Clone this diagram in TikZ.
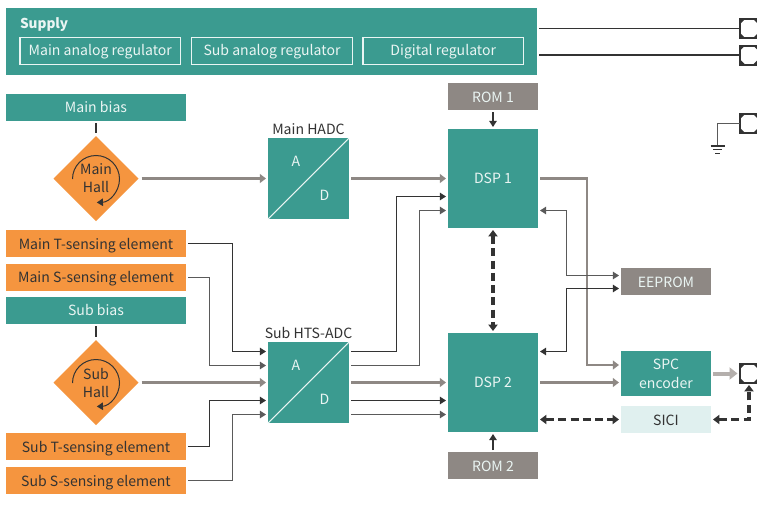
\documentclass[tikz,border=0pt]{standalone}
\usepackage{fontspec}
\setmainfont{Noto Sans CJK JP}
\usetikzlibrary{arrows.meta,calc,shapes.geometric}
\definecolor{teal1}{HTML}{3B9B90}
\definecolor{orange1}{HTML}{F5953F}
\definecolor{gray1}{HTML}{8E8884}
\definecolor{gray2}{HTML}{B4AFAC}
\definecolor{pale1}{HTML}{E0F0EF}
\definecolor{ink}{HTML}{333333}
\definecolor{ink2}{HTML}{5A5A5A}
\definecolor{light1}{HTML}{EAF5F3}
\tikzset{
  x=0.75pt,y=-0.75pt,
  every node/.style={inner sep=0pt,outer sep=0pt,align=center,font=\fontsize{10.55}{14.25}\selectfont},
  oneline/.style={text height=11.3pt,text depth=2.7pt},
  oneup/.style={text height=10.3pt,text depth=2.7pt},
  box/.style={minimum height=20.25pt},
  widebox/.style={box,minimum width=135pt},
  narrowbox/.style={box,minimum width=67.5pt},
  tealbox/.style={widebox,oneup,fill=teal1,text=light1},
  orangebox/.style={widebox,oneline,fill=orange1,text=ink},
  greybox/.style={narrowbox,fill=gray1,text=light1,oneline},
  regbox/.style={draw=light1,line width=0.9pt,minimum width=120.5pt,minimum height=20.25pt,text=light1,oneup},
  hall/.style={diamond,aspect=1,fill=orange1,text=ink,minimum width=63.75pt,minimum height=63.75pt},
  adc/.style={fill=teal1,minimum width=60.75pt,minimum height=60.75pt},
  dsp/.style={fill=teal1,text=light1,minimum width=67.5pt,minimum height=74.25pt},
  term/.style={draw=ink,fill=white,line width=1.5pt,minimum width=14.25pt,minimum height=14.25pt},
  tipT/.tip={Triangle[length=4.6pt,width=5.6pt]},
  thin1/.style={draw=ink,line width=1pt,-{tipT},shorten <=1.5pt,shorten >=1.5pt},
  thin2/.style={draw=ink2,line width=1.1pt,-{tipT},shorten <=1.5pt,shorten >=1.5pt},
  both1/.style={draw=ink,line width=1pt,{tipT}-{tipT},shorten <=1.5pt,shorten >=1.5pt},
  both2/.style={draw=ink2,line width=1.1pt,{tipT}-{tipT},shorten <=1.5pt,shorten >=1.5pt},
  wire/.style={draw=ink,line width=0.9pt},
  fat/.style={draw=gray1,line width=2.1pt,-{Triangle[length=4.6pt,width=6.6pt]},shorten <=1.5pt,shorten >=1.5pt},
  dash1/.style={draw=ink,line width=2.4pt,dash pattern=on 6pt off 3.2pt,{Triangle[length=4.8pt,width=6.8pt]}-{Triangle[length=4.8pt,width=6.8pt]},shorten <=1.5pt,shorten >=1.5pt},
  spin/.style={draw=ink,line width=0.75pt,-{tipT}},
}
\begin{document}
\begin{tikzpicture}
\useasboundingbox (0,0) rectangle (757,521);
\clip (0,0) rectangle (757,521);
\fill[white] (0,0) rectangle (757,521);
% Supply
\node[fill=teal1,minimum width=398.25pt,minimum height=50.25pt] (supply) at (271.5,41.5) {};
\node[anchor=west,text=light1,font=\fontsize{10.2}{14}\selectfont\bfseries] (supplyt) at (20,24.5) {Supply};
\node[regbox] (reg1) at (100.25,50.75) {Main analog regulator};
\node[regbox] (reg2) at (272,50.75) {Sub analog regulator};
\node[regbox] (reg3) at (443.25,50.75) {Digital regulator};
% left column
\node[tealbox] (mainbias) at (96,107.5) {Main bias};
\node[hall] (mainhall) at (96,178.5) {\raisebox{-2.5pt}{Main}\\\raisebox{-1.75pt}{Hall}};
\node[orangebox] (mainT) at (96,243.5) {Main T-sensing element};
\node[orangebox,oneup] (mainS) at (96,277.5) {Main S-sensing element};
\node[tealbox] (subbias) at (96,310.5) {Sub bias};
\node[hall] (subhall) at (96,382.5) {\raisebox{-2.5pt}{Sub}\\\raisebox{-1.75pt}{Hall}};
\node[orangebox] (subT) at (96,446.5) {Sub T-sensing element};
\node[orangebox] (subS) at (96,480.5) {Sub S-sensing element};
\draw[wire] ([yshift=-1.5pt]mainbias.south) -- ([yshift=2pt]mainhall.north);
\draw[wire] ([yshift=-1.5pt]subbias.south) -- ([yshift=2pt]subhall.north);
\draw[spin] ($(mainhall.center)+(-23.5,0.5)$) arc[start angle=180,end angle=448,radius=23.5];
\draw[spin] ($(subhall.center)+(-23.5,0.5)$) arc[start angle=180,end angle=448,radius=23.5];
% ADCs
\node[adc] (hadc) at (308.5,178.5) {};
\node[adc] (hts) at (308.5,382.5) {};
\draw[light1,line width=0.8pt] (hadc.south west) -- (hadc.north east);
\draw[light1,line width=0.8pt] (hts.south west) -- (hts.north east);
\node[text=light1] (hadcA) at (296,161.5) {A};
\node[text=light1] (hadcD) at (324.5,195) {D};
\node[text=light1] (htsA) at (296,365.5) {A};
\node[text=light1] (htsD) at (324.5,399) {D};
\node[text=ink] (hadcl) at (308.5,129) {Main HADC};
\node[text=ink] (htsl) at (308.5,332.5) {Sub HTS-ADC};
% DSPs, ROMs
\node[dsp] (dsp1) at (493,178.5) {DSP 1};
\node[dsp] (dsp2) at (493,382.5) {DSP 2};
\node[greybox] (rom1) at (493,96.5) {ROM 1};
\node[greybox] (rom2) at (493,465.5) {ROM 2};
% right column
\node[greybox] (eeprom) at (666,281.5) {EEPROM};
\node[narrowbox,fill=teal1,text=light1,minimum height=33.75pt] (spc) at (666,373.5) {SPC\\encoder};
\node[narrowbox,oneline,fill=pale1,text=ink] (sici) at (666,419.5) {SICI};
% terminals
\node[term] (t1) at (749,28.5) {};
\node[term] (t2) at (749,55) {};
\node[term] (t3) at (749,123.5) {};
\node[term] (t4) at (749,373.5) {};
\foreach \t in {t1,t2,t3,t4}{
  \fill[ink] (\t.north west) -- ++(5.5,0) -- ++(-5.5,5.5) -- cycle;
  \fill[ink] (\t.south west) -- ++(5.5,0) -- ++(-5.5,-5.5) -- cycle;
  \fill[ink] (\t.north east) -- ++(-5.5,0) -- ++(5.5,5.5) -- cycle;
  \fill[ink] (\t.south east) -- ++(-5.5,0) -- ++(5.5,-5.5) -- cycle;
}
% ground
\coordinate (gnd) at (717.5,146);
\draw[draw=ink2,line width=0.9pt] (t3.west) -| (gnd);
\draw[ink,line width=0.9pt] ($(gnd)+(-7,0)$) -- ($(gnd)+(7,0)$);
\draw[ink,line width=0.9pt] ($(gnd)+(-4.5,3.8)$) -- ($(gnd)+(4.5,3.8)$);
\draw[ink,line width=0.9pt] ($(gnd)+(-2.5,7.5)$) -- ($(gnd)+(2.5,7.5)$);
% supply lines
\draw[wire,shorten <=1.5pt] (supply.east |- t1.west) -- (t1.west);
\draw[wire,shorten <=1.5pt] (supply.east |- t2.west) -- (t2.west);
% gray signal arrows
\draw[fat] (mainhall.east) ++(1,0) -- (hadc.west);
\draw[fat] (subhall.east) ++(1,0) -- (hts.west);
\draw[fat] (hadc.east) -- (dsp1.west);
\draw[fat] (hts.east) -- (dsp2.west);
\draw[fat] (dsp2.east) -- (spc.west |- dsp2.east);
\draw[fat] (dsp1.east) -| (587,365) -- (spc.west |- 587,365);
\draw[draw=gray2,line width=3pt,-{Triangle[length=6pt,width=9pt]},shorten <=1.5pt,shorten >=1.5pt] (spc.east) -- (t4.west);
% sensing lines into Sub HTS-ADC
\draw[thin1] (mainT.east) -| (232.5,351.5) -- (hts.west |- 232.5,351.5);
\draw[thin2] (mainS.east) -| (209.5,365.5) -- (hts.west |- 209.5,365.5);
\draw[thin1] (subT.east) -| (209.5,400.5) -- (hts.west |- 209.5,400.5);
\draw[thin2] (subS.east) -| (232.5,414.5) -- (hts.west |- 232.5,414.5);
% HTS-ADC out
\draw[thin1] (hts.east |- 0,351.5) -| (396.5,196.5) -- (dsp1.west |- 396.5,196.5);
\draw[thin2] (hts.east |- 0,365.5) -| (419.5,210.5) -- (dsp1.west |- 419.5,210.5);
\draw[thin1] (hts.east |- 0,400.5) -- (dsp2.west |- 0,400.5);
\draw[thin2] (hts.east |- 0,414.5) -- (dsp2.west |- 0,414.5);
% ROM
\draw[thin1] (rom1) -- (dsp1);
\draw[thin1] (rom2) -- (dsp2);
% DSP dashed
\draw[dash1] (dsp1) -- (dsp2);
\draw[dash1] (dsp2.east |- sici.west) -- (sici.west);
\draw[dash1] (sici.east) -| (t4.south);
% EEPROM
\draw[both2] (dsp1.east |- 0,210.5) -| (566.5,275.5) -- (eeprom.west |- 566.5,275.5);
\draw[both1] (dsp2.east |- 0,351.5) -| (566.5,288.5) -- (eeprom.west |- 566.5,288.5);
\end{tikzpicture}
\end{document}
